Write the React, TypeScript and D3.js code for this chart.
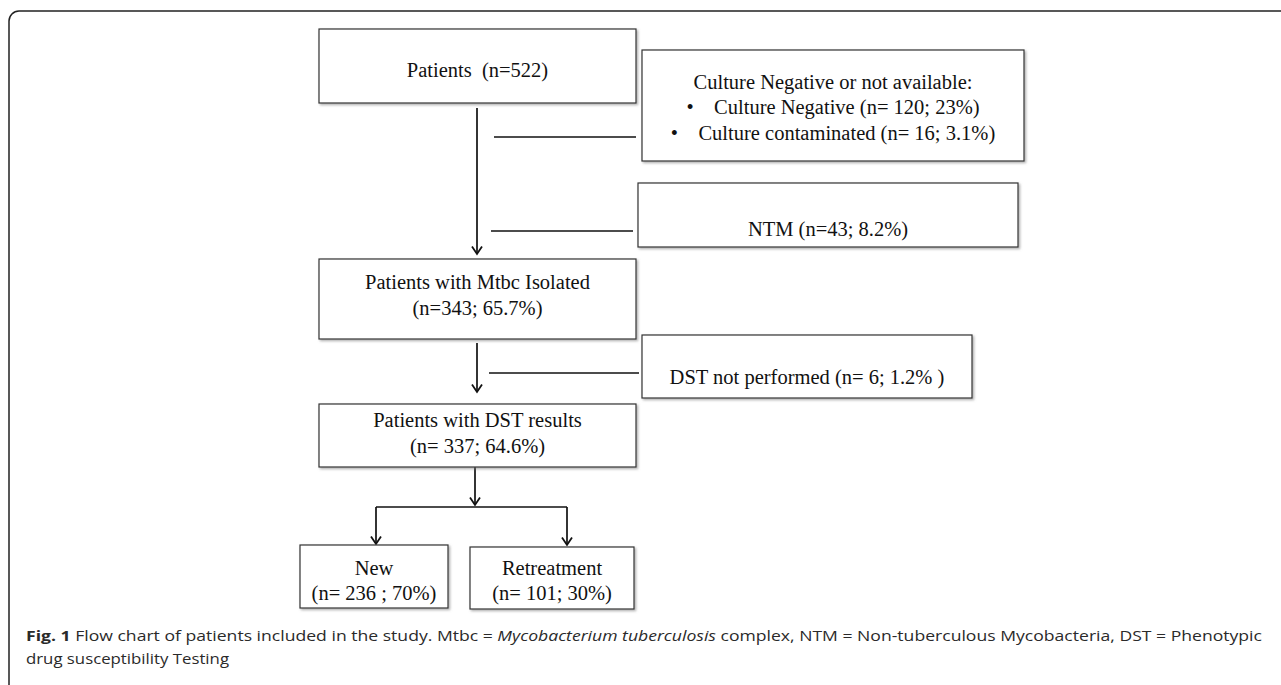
import * as d3 from 'd3'
import {useRef, useEffect} from 'react'

// flow chart content
const mainSteps: string[][] = [
  ['Patients  (n=522)'],
  ['Patients with Mtbc Isolated', '(n=343; 65.7%)'],
  ['Patients with DST results', '(n= 337; 64.6%)'],
]
const exclusions: string[][] = [
  ['Culture Negative or not available:', '•    Culture Negative (n= 120; 23%)', '•    Culture contaminated (n= 16; 3.1%)'],
  ['NTM (n=43; 8.2%)'],
  ['DST not performed (n= 6; 1.2% )'],
]
const outcomes: string[][] = [
  ['New', '(n= 236 ; 70%)'],
  ['Retreatment', '(n= 101; 30%)'],
]
const captionLine1 = [
  {t: 'Fig. 1', s: 'bold'},
  {t: ' Flow chart of patients included in the study. Mtbc = ', s: 'normal'},
  {t: 'Mycobacterium tuberculosis', s: 'italic'},
  {t: ' complex, NTM = Non-tuberculous Mycobacteria, DST = Phenotypic', s: 'normal'},
]
const captionLine2 = 'drug susceptibility Testing'

// layout (pixels)
interface Box {x: number, y: number, w: number, h: number, ty: number[]}
const mainBoxes: Box[] = [
  {x: 319, y: 29, w: 317, h: 74, ty: [70]},
  {x: 319, y: 259, w: 317, h: 80, ty: [282, 308]},
  {x: 319, y: 404, w: 317, h: 63, ty: [420, 446]},
]
const exclBoxes: Box[] = [
  {x: 642, y: 50, w: 382, h: 111, ty: [82, 107, 133]},
  {x: 638, y: 183, w: 380, h: 64, ty: [229]},
  {x: 642, y: 335, w: 330, h: 63, ty: [377]},
]
const outBoxes: Box[] = [
  {x: 300, y: 545, w: 148, h: 63, ty: [568, 593]},
  {x: 470, y: 547, w: 164, h: 62, ty: [568, 593]},
]
const spineX = 477
const exclLinks = [
  {x1: 494, x2: 636, y: 137},
  {x1: 491, x2: 633, y: 231},
  {x1: 489, x2: 639, y: 373},
]

export default function App() {
  const svgRef = useRef<SVGSVGElement>(null)
  const W = 1281
  const H = 685

  useEffect(() => {
    const svg = d3.select(svgRef.current)
    svg.selectAll('*').remove()

    const defs = svg.append('defs')
    const f = defs.append('filter').attr('id', 'sh').attr('x', '-5%').attr('y', '-5%').attr('width', '115%').attr('height', '130%')
    f.append('feDropShadow').attr('dx', 1.5).attr('dy', 1.5).attr('stdDeviation', 1)
      .attr('flood-color', '#777').attr('flood-opacity', 0.6)
    // open chevron pointing along +x
    defs.append('marker').attr('id', 'arr').attr('viewBox', '-10 -7 12 14')
      .attr('refX', 0).attr('refY', 0).attr('markerWidth', 12).attr('markerHeight', 14)
      .attr('markerUnits', 'userSpaceOnUse').attr('orient', 'auto')
      .append('path').attr('d', 'M-7.5,-5L0,0L-7.5,5').attr('fill', 'none')
      .attr('stroke', '#111').attr('stroke-width', 1.8)

    // outer frame with rounded top-left corner
    svg.append('path')
      .attr('d', `M9,${H}V21A10,10 0 0 1 19,11H${W}`)
      .attr('fill', 'none').attr('stroke', '#222').attr('stroke-width', 1.5)

    const link = (x1: number, y1: number, x2: number, y2: number, arrow: boolean) => {
      const p = svg.append('path').attr('d', d3.line()([[x1, y1], [x2, y2]]))
        .attr('stroke', '#111').attr('stroke-width', 1.7).attr('fill', 'none')
      if (arrow) p.attr('marker-end', 'url(#arr)')
    }

    // links
    link(spineX, 108, spineX, 254, true)
    link(spineX, 343, spineX, 392, true)
    link(475, 467, 475, 505, true)
    link(376, 507, 567, 507, false)
    link(376, 507, 376, 544, true)
    link(567, 507, 567, 545, true)
    exclLinks.forEach(d => link(d.x1, d.y, d.x2, d.y, false))

    const drawBoxes = (boxes: Box[], labels: string[][]) => {
      const g = svg.append('g')
      boxes.forEach((b, i) => {
        g.append('rect').attr('x', b.x).attr('y', b.y).attr('width', b.w).attr('height', b.h)
          .attr('fill', '#fff').attr('stroke', '#333').attr('stroke-width', 1.2)
          .attr('filter', 'url(#sh)')
        labels[i].forEach((t, j) => {
          g.append('text').attr('x', b.x + b.w / 2).attr('y', b.ty[j]).attr('dy', '0.35em')
            .attr('text-anchor', 'middle')
            .attr('font-family', '"Liberation Serif", "Times New Roman", serif')
            .attr('font-size', 20.5).attr('fill', '#111')
            .style('white-space', 'pre')
            .text(t)
        })
      })
    }
    drawBoxes(mainBoxes, mainSteps)
    drawBoxes(exclBoxes, exclusions)
    drawBoxes(outBoxes, outcomes)

    // caption
    const cap = svg.append('text').attr('x', 26).attr('y', 641)
      .attr('font-family', '"Open Sans", sans-serif').attr('font-size', 15).attr('fill', '#2a2a2a')
      .attr('textLength', 1236).attr('lengthAdjust', 'spacingAndGlyphs')
    captionLine1.forEach(p => {
      cap.append('tspan')
        .attr('font-weight', p.s === 'bold' ? 700 : 400)
        .attr('font-style', p.s === 'italic' ? 'italic' : 'normal')
        .text(p.t)
    })
    svg.append('text').attr('x', 26).attr('y', 664)
      .attr('font-family', '"Open Sans", sans-serif').attr('font-size', 15).attr('fill', '#2a2a2a')
      .attr('textLength', 203).attr('lengthAdjust', 'spacingAndGlyphs')
      .text(captionLine2)
  }, [])

  return (
    <svg ref={svgRef} width={W} height={H}
      style={{position: 'absolute', left: 0, top: 0, background: '#fff'}} />
  )
}
